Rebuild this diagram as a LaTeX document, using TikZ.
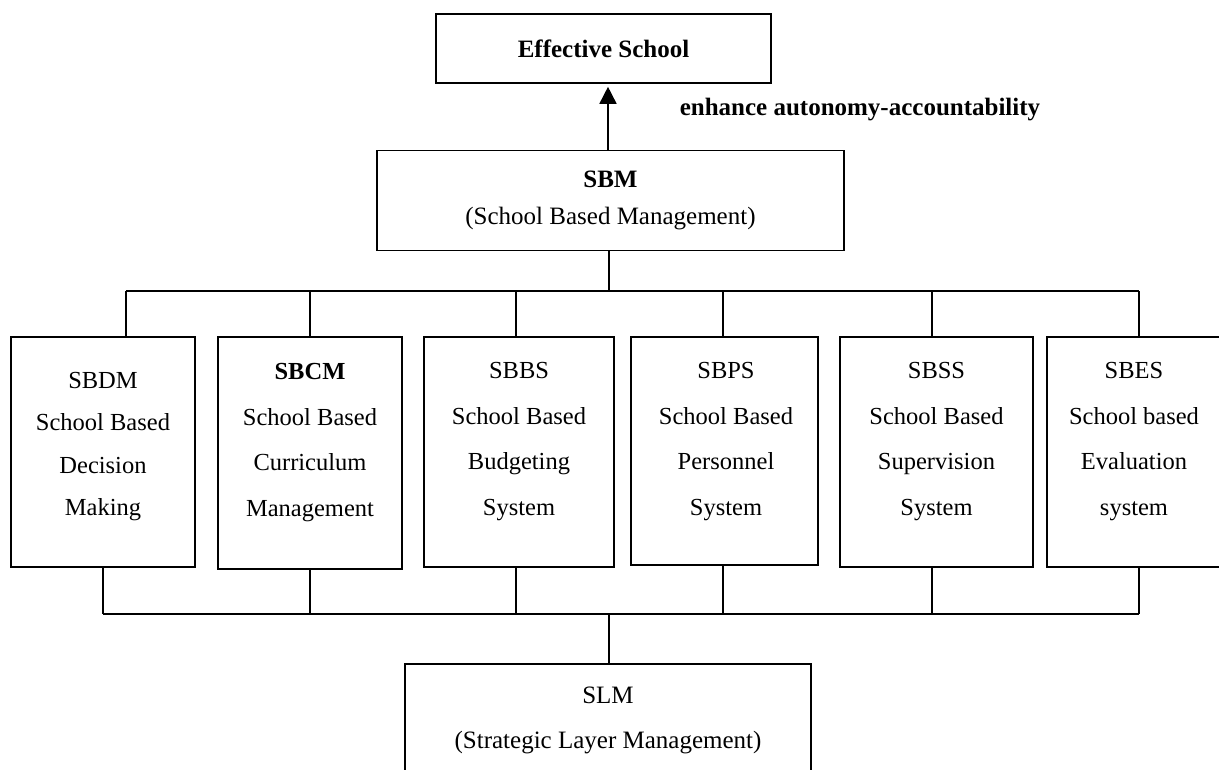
\documentclass[tikz,border=0pt]{standalone}
\usepackage{fontspec}
\setmainfont{Liberation Serif}
\usetikzlibrary{arrows.meta}
\begin{document}
\begin{tikzpicture}[x=1pt,y=-1pt,
  line width=1.6pt,
  box/.style={draw=black, line width=1.6pt, inner sep=0pt},
  btxt/.style={align=center, inner sep=0pt, font=\fontsize{24.5}{45.5}\selectfont},
  conn/.style={draw=black, line width=1.6pt}
  ]
\useasboundingbox (0,0) rectangle (1219,769);
\clip (0,0) rectangle (1219,769);
\fill[white] (0,0) rectangle (1219,769);

% top nodes
\node[box, minimum width=335pt, minimum height=69pt, font=\bfseries\fontsize{25}{30}\selectfont] (eff) at (603.5,48.5) {Effective School};
\node[box, minimum width=467pt, minimum height=100pt, align=center, font=\fontsize{25}{37}\selectfont] (sbm) at (610.5,200.5) {\textbf{SBM}\\(School Based Management)};
\node[inner sep=0pt, font=\bfseries\fontsize{25}{30}\selectfont] (lbl) at (860,110) {enhance autonomy-accountability};

% middle boxes
\node[box, minimum width=184pt, minimum height=230pt] (sbdm) at (103,452) {};
\node[box, minimum width=184pt, minimum height=232pt] (sbcm) at (310,453) {};
\node[box, minimum width=190pt, minimum height=230pt] (sbbs) at (519,452) {};
\node[box, minimum width=187pt, minimum height=228pt] (sbps) at (724.5,451) {};
\node[box, minimum width=193pt, minimum height=230pt] (sbss) at (936.5,452) {};
\node[box, minimum width=178pt, minimum height=230pt] (sbes) at (1136,452) {};

\node[btxt, font=\fontsize{24.5}{42.5}\selectfont] (sbdmT) at (103,446.5) {SBDM\\School Based\\Decision\\Making};
\node[btxt] (sbcmT) at (310,442.5) {\textbf{SBCM}\\School Based\\Curriculum\\Management};
\node[btxt] (sbbsT) at (519,441.5) {SBBS\\School Based\\Budgeting\\System};
\node[btxt] (sbpsT) at (726,441.5) {SBPS\\School Based\\Personnel\\System};
\node[btxt] (sbssT) at (936.5,441.5) {SBSS\\School Based\\Supervision\\System};
\node[btxt] (sbesT) at (1134,441.5) {SBES\\School based\\Evaluation\\system};

% bottom node
\node[box, minimum width=406pt, minimum height=136pt] (slm) at (608,732) {};
\node[btxt, font=\fontsize{25}{45}\selectfont] (slmT) at (608,720.5) {SLM\\(Strategic Layer Management)};

% connector coordinates
\coordinate (ax) at (608,0);
\coordinate (mx) at (609,0);
\coordinate (t1) at (126,291);
\coordinate (t2) at (310,291);
\coordinate (t3) at (516,291);
\coordinate (t4) at (723,291);
\coordinate (t5) at (932,291);
\coordinate (t6) at (1139,291);
\coordinate (b1) at (103,614);
\coordinate (b2) at (310,614);
\coordinate (b3) at (516,614);
\coordinate (b4) at (723,614);
\coordinate (b5) at (932,614);
\coordinate (b6) at (1139,614);

% arrow SBM -> Effective School
\draw[conn, -{Triangle[width=17pt,length=17pt]}, shorten >=3pt] (ax |- sbm.north) -- (ax |- eff.south);

% upper bus
\draw[conn] (mx |- sbm.south) -- (mx |- t1);
\draw[conn] (t1) -- (t6);
\draw[conn] (t1) -- (t1 |- sbdm.north);
\draw[conn] (t2) -- (t2 |- sbcm.north);
\draw[conn] (t3) -- (t3 |- sbbs.north);
\draw[conn] (t4) -- (t4 |- sbps.north);
\draw[conn] (t5) -- (t5 |- sbss.north);
\draw[conn] (t6) -- (t6 |- sbes.north);

% lower bus
\draw[conn] (b1 |- sbdm.south) -- (b1);
\draw[conn] (b2 |- sbcm.south) -- (b2);
\draw[conn] (b3 |- sbbs.south) -- (b3);
\draw[conn] (b4 |- sbps.south) -- (b4);
\draw[conn] (b5 |- sbss.south) -- (b5);
\draw[conn] (b6 |- sbes.south) -- (b6);
\draw[conn] (b1) -- (b6);
\draw[conn] (mx |- b1) -- (mx |- slm.north);
\end{tikzpicture}
\end{document}
